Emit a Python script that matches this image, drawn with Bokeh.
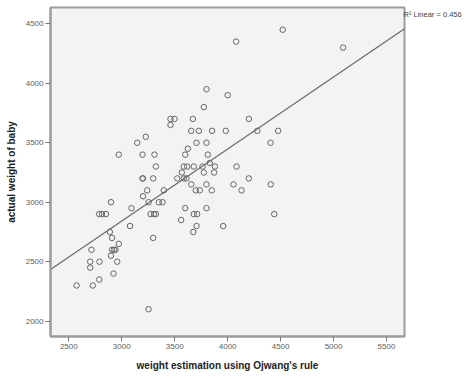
from bokeh.plotting import figure
from bokeh.models import Range1d, FixedTicker, LinearAxis
from bokeh.embed import file_html
from bokeh.resources import INLINE

# Data (estimated weight vs actual weight)
est_weight = [
    4520, 4080, 5090, 3800, 4000, 3775,
    3460, 3498, 3671, 4200,
    3460,
    3656, 3728, 3853, 3982, 4280, 4477,
    3227,
    3146, 3706, 3800, 4405,
    3624,
    2972, 3196, 3309, 3599, 3813,
    3831,
    3322, 3586, 3618, 3680, 3763, 3880, 4084,
    3567, 3775, 3872,
    3196, 3200, 3297, 3524, 3586, 3611, 4200,
    3656, 3800, 4055, 4407,
    3240, 3397, 3699, 3737, 3850, 4131,
    3201,
    2898, 3253, 3350, 3385,
    3092, 3599, 3800,
    2787, 2813, 2851, 3272, 3303, 3322, 3680, 3712, 4440,
    3561,
    3078, 3706, 3958,
    2887, 3675,
    2908, 3297,
    2972,
    2714, 2908, 2927, 2941,
    2898,
    2702, 2790, 2957,
    2702,
    2922,
    2787,
    2573, 2727,
    3253,
]
actual_weight = [
    4450, 4350, 4300, 3950, 3900, 3800,
    3700, 3700, 3700, 3700,
    3650,
    3600, 3600, 3600, 3600, 3600, 3600,
    3550,
    3500, 3500, 3500, 3500,
    3450,
    3400, 3400, 3400, 3400, 3400,
    3330,
    3300, 3300, 3300, 3300, 3300, 3300, 3300,
    3250, 3250, 3250,
    3200, 3200, 3200, 3200, 3200, 3200, 3200,
    3150, 3150, 3150, 3150,
    3100, 3100, 3100, 3100, 3100, 3100,
    3050,
    3000, 3000, 3000, 3000,
    2950, 2950, 2950,
    2900, 2900, 2900, 2900, 2900, 2900, 2900, 2900, 2900,
    2850,
    2800, 2800, 2800,
    2750, 2750,
    2700, 2700,
    2650,
    2600, 2600, 2600, 2600,
    2550,
    2500, 2500, 2500,
    2450,
    2400,
    2350,
    2300, 2300,
    2100,
]

x_ticks = [2500, 3000, 3500, 4000, 4500, 5000, 5500]
y_ticks = [2000, 2500, 3000, 3500, 4000, 4500]

fit_slope = 0.605
fit_intercept = 1027
r2_text = "R\u00b2 Linear = 0.456"
r2_anchor_y = 4577

x_lo, x_hi = 2327, 5670
y_lo, y_hi = 1871, 4637

p = figure(width=468, height=379, output_backend="svg", toolbar_location=None,
           x_range=Range1d(x_lo, x_hi), y_range=Range1d(y_lo, y_hi),
           min_border_left=50, min_border_right=64, min_border_top=7, min_border_bottom=43)

p.background_fill_color = "#f3f3f3"
p.border_fill_color = "white"
p.outline_line_color = "#9c9c9c"
p.outline_line_width = 2
p.xgrid.visible = False
p.ygrid.visible = False

for ax in (p.xaxis[0], p.yaxis[0]):
    ax.axis_line_color = "#9c9c9c"
    ax.axis_line_width = 2
    ax.major_tick_line_color = "#777777"
    ax.major_tick_out = 5
    ax.major_tick_in = 0
    ax.minor_tick_line_color = None
    ax.major_label_text_font = "Liberation Sans"
    ax.major_label_text_font_size = "8px"
    ax.major_label_text_color = "#606060"
    ax.major_label_standoff = 2
    ax.axis_label_text_font = "Liberation Sans"
    ax.axis_label_text_font_size = "10px"
    ax.axis_label_text_font_style = "bold"
    ax.axis_label_text_color = "#222222"

p.xaxis.ticker = FixedTicker(ticks=x_ticks)
p.yaxis.ticker = FixedTicker(ticks=y_ticks)
p.xaxis.axis_label = "weight estimation using Ojwang's rule"
p.yaxis.axis_label = "actual weight of baby"
p.xaxis.axis_label_standoff = 8
p.yaxis.axis_label_standoff = 6

# R-squared note on the right side (an axis with one labelled tick, so it is not clipped)
r_axis = LinearAxis(ticker=FixedTicker(ticks=[r2_anchor_y]),
                    major_label_overrides={r2_anchor_y: r2_text},
                    axis_line_color=None, major_tick_line_color=None,
                    minor_tick_line_color=None, major_tick_out=0, major_tick_in=0,
                    major_label_standoff=-1,
                    major_label_text_font="Liberation Sans",
                    major_label_text_font_size="7.5px",
                    major_label_text_color="#444444")
p.add_layout(r_axis, "right")

# regression line
line_x = [x_lo, x_hi]
line_y = [fit_intercept + fit_slope * v for v in line_x]
p.line(line_x, line_y, line_color="#6a6a6a", line_width=1.2)

p.scatter(est_weight, actual_weight, marker="circle", size=5.5,
          fill_color=None, line_color="#666666", line_width=1)

open("out.html", "w").write(file_html(p, INLINE))
